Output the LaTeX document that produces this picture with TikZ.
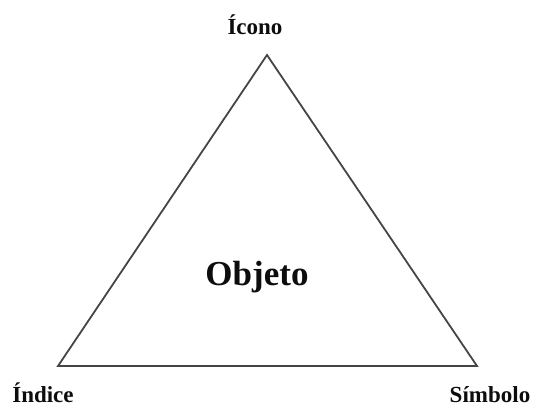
\documentclass[tikz,border=0pt]{standalone}
\usepackage{fontspec}
\setmainfont{Liberation Serif}
\usetikzlibrary{calc}
\definecolor{SignInk}{gray}{0.05}
\definecolor{SignEdge}{gray}{0.27}
\tikzset{
    sign/diagram/.style={
        x=1pt, y=1pt,
        line cap=round,
        line join=miter,
        every node/.style={inner sep=0pt, outer sep=0pt}
    },
    sign/edge/.style={draw=SignEdge, line width=1.8pt},
    sign/corner/.style={font=\fontsize{23}{25}\selectfont\bfseries, text=SignInk},
    sign/centre/.style={font=\fontsize{35}{38}\selectfont\bfseries, text=SignInk}
}
\begin{document}
\begin{tikzpicture}[sign/diagram]
    \useasboundingbox (0,0) rectangle (533,408);
    % vertices of the triangle
    \coordinate (icono) at (267,353);
    \coordinate (indice) at (58,42);
    \coordinate (simbolo) at (477,42);
    \draw[sign/edge] (icono) -- (simbolo) -- (indice) -- cycle;
    % labels
    \node[sign/corner] (IconoLabel) at (255,383) {Ícono};
    \node[sign/corner, anchor=base] (IndiceLabel) at (43,6) {Índice};
    \node[sign/corner, anchor=base] (SimboloLabel) at (490,6) {Símbolo};
    \node[sign/centre] (Objeto) at (257,131) {Objeto};
\end{tikzpicture}
\end{document}
